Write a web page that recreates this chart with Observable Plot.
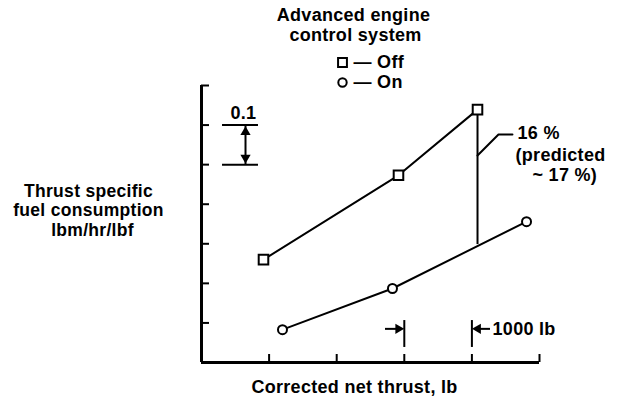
<!DOCTYPE html>
<html>
<head>
<meta charset="utf-8">
<script src="https://cdn.jsdelivr.net/npm/d3@7"></script>
<script src="https://cdn.jsdelivr.net/npm/@observablehq/plot@0.6"></script>
<style>
  html, body { margin: 0; padding: 0; background: #fff; }
</style>
</head>
<body>
<div id="chart"></div>
<script>
// ---- data ----
const thrustOff = [917, 2914, 4083];       // corrected net thrust, lb (relative)
const tsfcOff   = [0.260, 0.473, 0.639];   // TSFC (relative, 0.1 per tick)
const thrustOn  = [1198, 2825, 4808];
const tsfcOn    = [0.083, 0.187, 0.356];
const xTicks = [1000, 2000, 3000, 4000, 5000];
const yTicks = [0.1, 0.2, 0.3, 0.4, 0.5, 0.6, 0.7];

// annotation data
const gapX = 4083, gapTop = 0.639, gapBottom = 0.298;
const leaderX = [4083, 4393, 4600];
const leaderY = [0.523, 0.576, 0.576];
const noteLines = ["16 %", "(predicted", "~ 17 %)"];
const noteX = [4675, 4645, 4896];
const noteY = [0.579, 0.523, 0.473];
const scaleLevels = [0.5, 0.6];          // "0.1" bracket
const scaleX1 = 311, scaleX2 = 843, scaleArrowX = 651;
const spanX = [3000, 4000];               // "1000 lb" interval
const spanY = 0.085;

const off = thrustOff.map((x, i) => ({x, y: tsfcOff[i]}));
const on = thrustOn.map((x, i) => ({x, y: tsfcOn[i]}));
const leader = leaderX.map((x, i) => ({x, y: leaderY[i]}));
const notes = noteLines.map((t, i) => ({t, x: noteX[i], y: noteY[i]}));

const font = {fontSize: 18, fontWeight: "bold", fill: "black"};
const T = (txt, dx, dy, anchor = "middle", size = 18) =>
  Plot.text([txt], {frameAnchor: "top-left", lineAnchor: "middle", text: d => d, dx, dy, textAnchor: anchor, ...font, fontSize: size});
const ink = {stroke: "black", strokeWidth: 2};
const head = {symbol: "triangle", r: 3.8, fill: "black", stroke: "none"};

const chart = Plot.plot({
  width: 617,
  height: 401,
  marginLeft: 201,
  marginRight: 78,
  marginTop: 85,
  marginBottom: 39,
  x: {domain: [0, 5000], axis: null},
  y: {domain: [0, 0.7], axis: null},
  style: {fontFamily: "'Liberation Sans', Arial, sans-serif", background: "white", letterSpacing: "0.3px"},
  marks: [
    // axes
    Plot.ruleX([0], {stroke: "black", strokeWidth: 3}),
    Plot.ruleY([0], {stroke: "black", strokeWidth: 3}),
    Plot.ruleX(xTicks, {x: d => d, insetTop: 269, ...ink}),
    Plot.ruleY(yTicks, {y: d => d, insetRight: 330, ...ink}),

    // 0.1 scale bracket
    Plot.ruleY(scaleLevels, {y: d => d, x1: scaleX1, x2: scaleX2, ...ink}),
    Plot.ruleX([scaleArrowX], {x: d => d, y1: scaleLevels[0], y2: scaleLevels[1], ...ink}),
    Plot.dot([scaleLevels[1]], {x: scaleArrowX, y: d => d, rotate: 0, dy: 7, ...head}),
    Plot.dot([scaleLevels[0]], {x: scaleArrowX, y: d => d, rotate: 180, dy: -7, ...head}),
    Plot.text(["0.1"], {x: 620, y: 0.629, text: d => d, ...font}),

    // gap line + leader
    Plot.ruleX([gapX], {x: d => d, y1: gapBottom, y2: gapTop, ...ink}),
    Plot.line(leader, {x: "x", y: "y", ...ink}),
    Plot.text(notes, {x: "x", y: "y", text: "t", textAnchor: "start", ...font}),

    // 1000 lb interval
    Plot.ruleX(spanX, {x: d => d, y1: 0.038, y2: 0.106, ...ink}),
    Plot.ruleY([spanY], {y: d => d, x1: 2722, x2: 2950, ...ink}),
    Plot.ruleY([spanY], {y: d => d, x1: 4050, x2: 4275, ...ink}),
    Plot.dot([spanX[0]], {x: d => d, y: spanY, rotate: 90, dx: -6, ...head}),
    Plot.dot([spanX[1]], {x: d => d, y: spanY, rotate: -90, dx: 6, ...head}),
    Plot.text(["1000 lb"], {x: 4305, y: spanY, text: d => d, textAnchor: "start", ...font}),

    // data lines
    Plot.line(off, {x: "x", y: "y", ...ink}),
    Plot.line(on, {x: "x", y: "y", ...ink}),
    Plot.dot(off, {x: "x", y: "y", symbol: "square", r: 5.4, fill: "white", ...ink}),
    Plot.dot(on, {x: "x", y: "y", symbol: "circle", r: 4.5, fill: "white", ...ink}),

    // title + legend
    T("Advanced engine", 152, -70),
    T("control system", 154, -50),
    Plot.dot([0], {frameAnchor: "top-left", dx: 141, dy: -23, symbol: "square", r: 5.0, fill: "white", ...ink}),
    Plot.dot([0], {frameAnchor: "top-left", dx: 141, dy: -3, symbol: "circle", r: 4.2, fill: "white", ...ink}),
    T("— Off", 152, -23, "start"),
    T("— On", 152, -3, "start"),

    // y label
    T("Thrust specific", -113, 106, "middle", 17.5),
    T("fuel consumption", -113, 125, "middle", 17.5),
    T("lbm/hr/lbf", -109, 144.5, "middle", 17.5),

    // x label
    T("Corrected net thrust, lb", 153, 302)
  ]
});
document.getElementById("chart").appendChild(chart);
</script>
</body>
</html>
